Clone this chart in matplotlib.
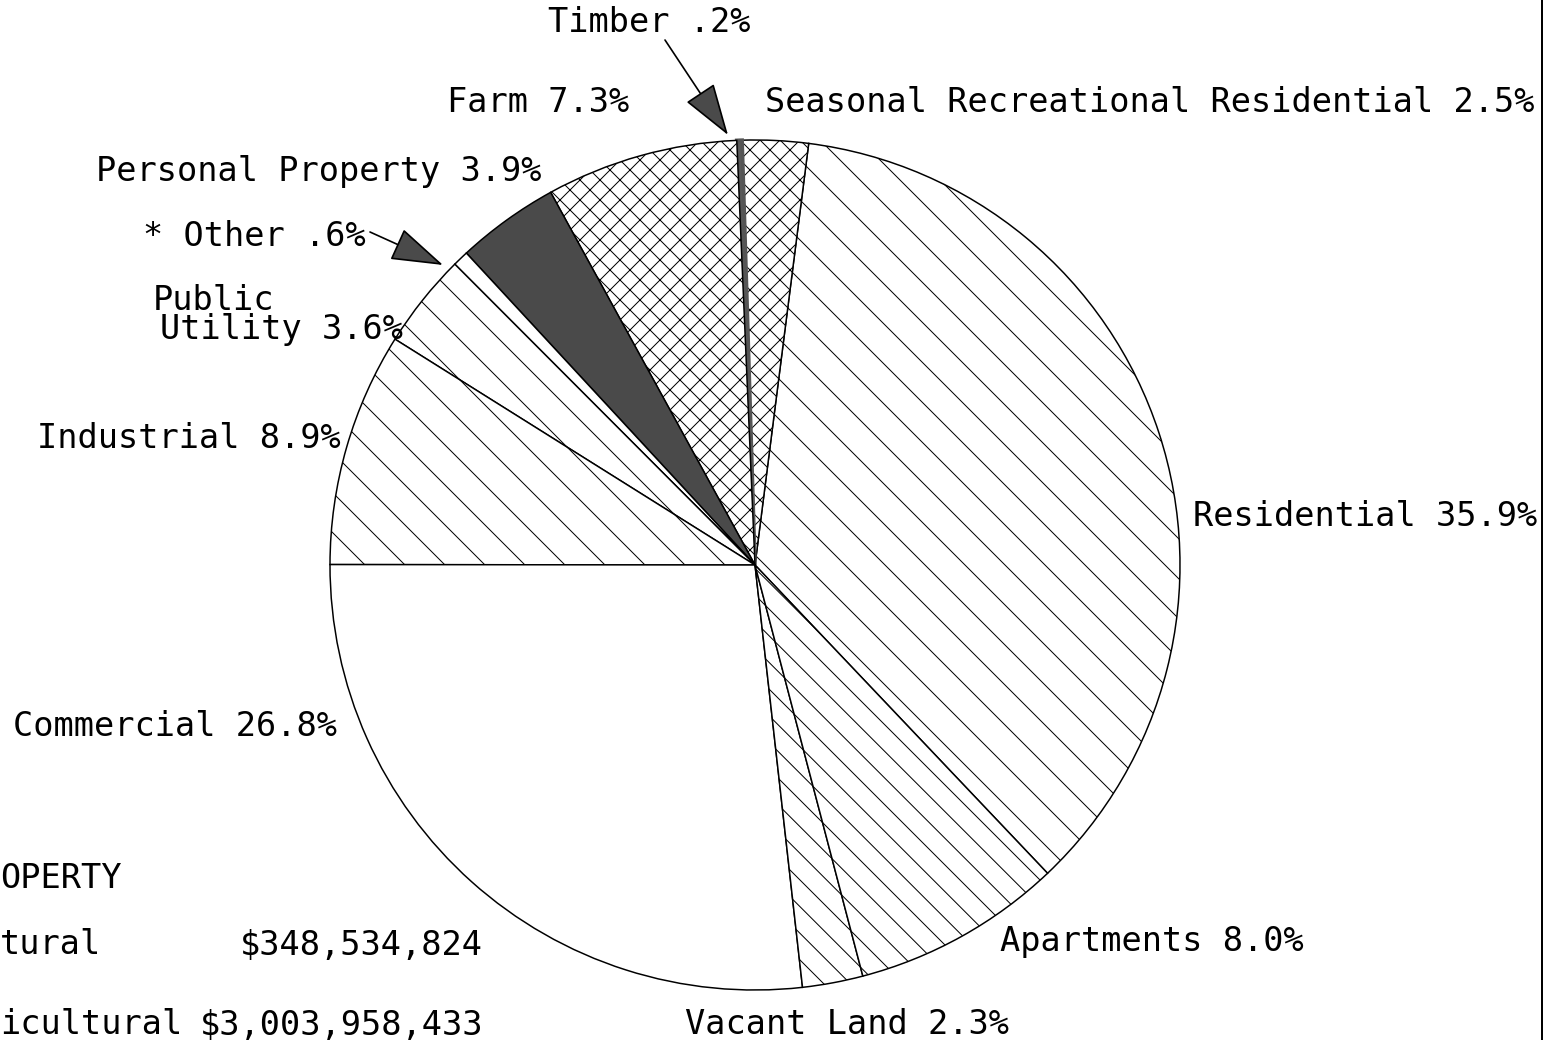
import matplotlib
matplotlib.use('Agg')
import matplotlib.pyplot as plt

# assessed value shares, counter-clockwise from Residential
categories = ['Residential', 'Seasonal Recreational Residential', 'Timber', 'Farm',
              'Personal Property', 'Other', 'Public Utility', 'Industrial',
              'Commercial', 'Vacant Land', 'Apartments']
shares = [35.9, 2.5, 0.2, 7.3, 3.9, 0.6, 3.6, 8.9, 26.8, 2.3, 8.0]

# totals block as it shows in the (cropped) original
totals_heading = 'OPERTY'
totals_labels = ['tural', 'icultural']
totals_values = ['$348,534,824', '$3,003,958,433']

W, H = 1558, 1040
DPI = 240


def pct(v):
	return f"{v:.1f}".lstrip('0') + '%'


def main():
	plt.rcParams['font.family'] = ['DejaVu Sans Mono']
	plt.rcParams['hatch.linewidth'] = 0.3
	fs = 10.1

	fig = plt.figure(figsize=(W / DPI, H / DPI), dpi=DPI)
	ax = fig.add_axes([0, 0, 1, 1])

	fills = ['white', 'white', '#5a5a5a', 'white', '#4a4a4a', 'white',
	         'white', 'white', 'white', 'white', 'white']
	hatches = ['\\\\', 'xxxx', None, 'xxxx', None, None, '\\\\', '\\\\', None,
	           '\\\\\\', '\\\\\\']

	wedges, _ = ax.pie(shares, startangle=-46.5, counterclock=True,
	                   center=(755, H - 565), radius=425,
	                   colors=fills, wedgeprops=dict(edgecolor='black', linewidth=0.45))
	for w, h in zip(wedges, hatches):
		if h:
			w.set_hatch(h)
	wedges[2].set_edgecolor('#555555')
	wedges[2].set_linewidth(1.1)

	ax.set_xlim(0, W)
	ax.set_ylim(0, H)
	ax.set_aspect('equal')
	ax.axis('off')

	# right-hand frame line
	ax.axvline(1542, color='black', lw=0.6)

	lbl = {c: f"{c} {pct(s)}" for c, s in zip(categories, shares)}
	txt = dict(fontsize=fs, va='center', ha='left', color='black')

	ax.text(447, H - 102, lbl['Farm'], **txt)
	ax.text(765, H - 103, lbl['Seasonal Recreational Residential'], **txt)
	ax.text(96, H - 172, lbl['Personal Property'], **txt)
	ax.text(153, H - 300, 'Public', **txt)
	ax.text(160, H - 330, 'Utility ' + pct(shares[6]), **txt)
	ax.text(37, H - 438, lbl['Industrial'], **txt)
	ax.text(1193, H - 516, lbl['Residential'], **txt)
	ax.text(13, H - 727, lbl['Commercial'], **txt)
	ax.text(1000, H - 941, lbl['Apartments'], **txt)
	ax.text(685, H - 1024, lbl['Vacant Land'], **txt)

	arrow = dict(arrowstyle='-|>,head_length=1.4,head_width=0.45',
	             mutation_scale=10, fc='#4a4a4a', ec='black', lw=0.5,
	             shrinkA=0, shrinkB=0)
	ax.text(548, H - 22, lbl['Timber'], **txt)
	ax.annotate('', xy=(728, H - 135), xytext=(665, H - 40), arrowprops=arrow)
	ax.text(143, H - 236, '* ' + lbl['Other'], **txt)
	ax.annotate('', xy=(443, H - 265), xytext=(370, H - 232), arrowprops=arrow)

	# totals block
	ax.text(0, H - 878, totals_heading, **txt)
	ax.text(0, H - 945, totals_labels[0], **txt)
	ax.text(0, H - 1025, totals_labels[1], **txt)
	ax.text(483, H - 945, totals_values[0], fontsize=fs, va='center', ha='right')
	ax.text(483, H - 1025, totals_values[1], fontsize=fs, va='center', ha='right')

	fig.savefig('out.png', dpi=DPI, facecolor='white')


if __name__ == '__main__':
	main()
